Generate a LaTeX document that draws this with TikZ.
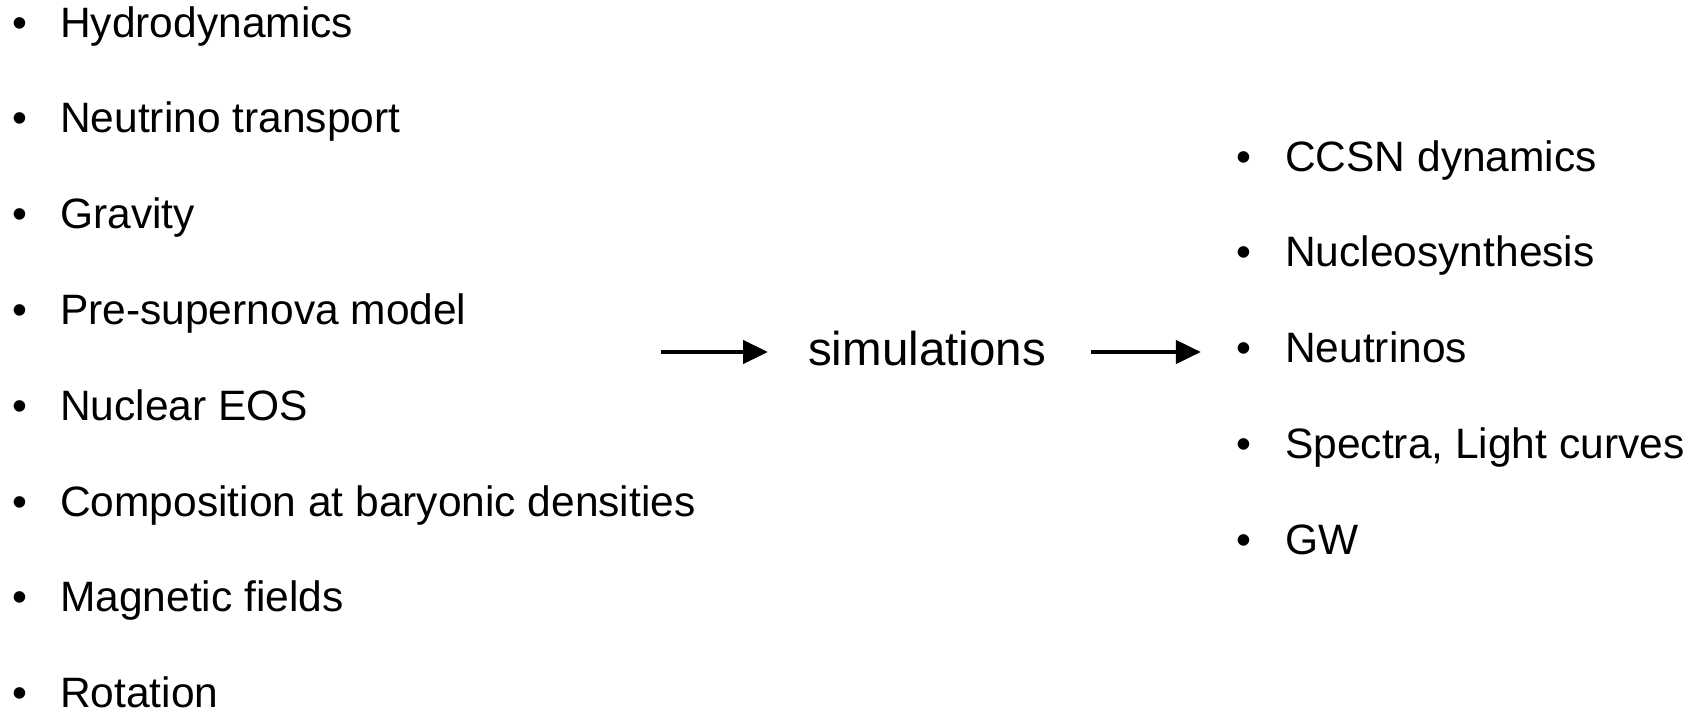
\documentclass[tikz,border=0pt]{standalone}
\usepackage{fontspec}
\setmainfont{Liberation Sans}
\usetikzlibrary{arrows.meta}
\begin{document}
\begin{tikzpicture}[x=1pt,y=-1pt,
  listfont/.style={font=\fontsize{42.5}{50}\selectfont},
  item/.style={listfont,anchor=base west,inner sep=0pt},
  dot/.style={listfont,anchor=base,inner sep=0pt},
  flow/.style={line width=4.5pt,-{Triangle[length=25pt,width=23pt]}}]
\useasboundingbox (0,0) rectangle (1700,713);

% inputs
\foreach \t [count=\i] in {Hydrodynamics,Neutrino transport,Gravity,Pre-supernova model,Nuclear EOS,Composition at baryonic densities,Magnetic fields,Rotation}{
  \node[dot] (bl\i) at (19.5,{37+95.8*(\i-1)}) {•};
  \node[item] (l\i) at (60,{37+95.8*(\i-1)}) {\t};
}

% outputs
\foreach \t [count=\i] in {CCSN dynamics,Nucleosynthesis,Neutrinos,{Spectra, Light curves},GW}{
  \node[dot] (br\i) at (1243.5,{171+95.8*(\i-1)}) {•};
  \node[item] (r\i) at (1285,{171+95.8*(\i-1)}) {\t};
}

% centre
\node[anchor=base west,inner sep=0pt,font=\fontsize{47.5}{56}\selectfont] (sim) at (808,365) {simulations};

\coordinate (in) at (661,352);
\draw[flow,shorten >=40pt] (in) -- (in -| sim.west);
\draw[flow,shorten <=45pt,shorten >=35pt] (sim.east |- in) -- (br3.west |- in);
\end{tikzpicture}
\end{document}
